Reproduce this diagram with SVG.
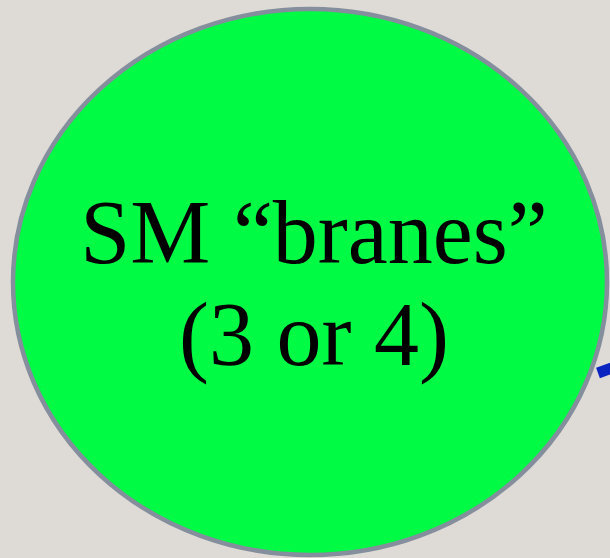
<svg xmlns="http://www.w3.org/2000/svg" width="610" height="558" viewBox="0 0 610 558">
<style>
.lbl{font-family:"Liberation Serif","Times New Roman",serif;font-size:90px;fill:#000;text-anchor:middle}
</style>
<rect x="0" y="0" width="610" height="558" fill="#dedbd6"/>
<g id="connectors">
<line x1="598" y1="373" x2="620" y2="365" stroke="#0a24c0" stroke-width="11"/>
</g>
<g id="sm-branes">
<ellipse cx="310" cy="282" rx="297" ry="273" fill="#00fb45" stroke="#858e9c" stroke-width="4.5"/>
<text class="lbl" x="314" y="263">SM “branes”</text>
<text class="lbl" x="314" y="365">(3 or 4)</text>
</g>
</svg>
